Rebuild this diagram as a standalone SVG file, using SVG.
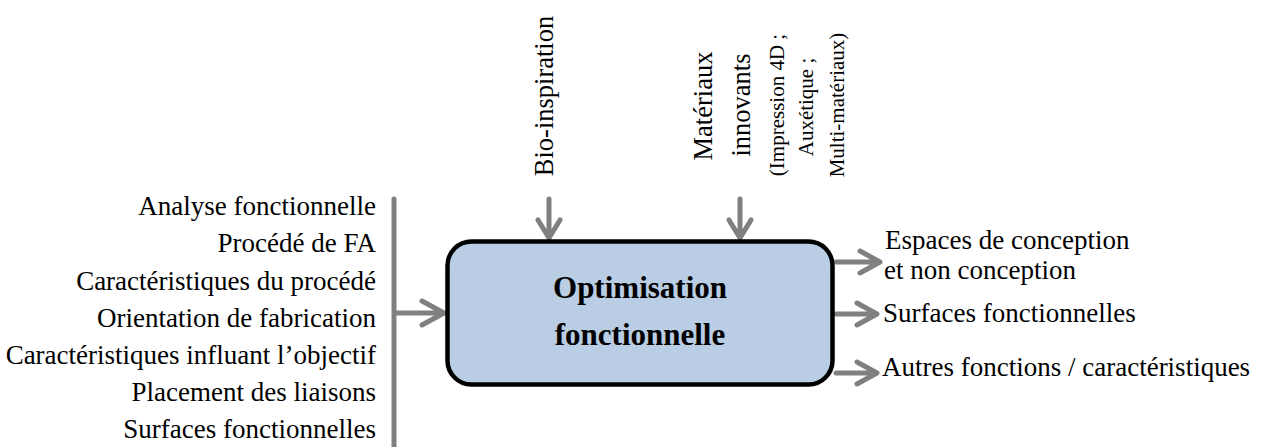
<svg xmlns="http://www.w3.org/2000/svg" width="1261" height="447" viewBox="0 0 1261 447" font-family="Liberation Serif, serif">
<style>
text{fill:#000}
.t{font-size:27px}
.v{font-size:26.5px}
.s{font-size:21px}
.b{font-size:31px;font-weight:bold}
.c{stroke:#808080;stroke-width:5;fill:none;stroke-linecap:round;stroke-linejoin:round}
</style>
<rect width="1261" height="447" fill="#fff"/>
<g id="inputs-left" font-family="Liberation Serif, serif">
<text class="t" text-anchor="end" x="376" y="215">Analyse fonctionnelle</text>
<text class="t" text-anchor="end" x="376" y="252">Procédé de FA</text>
<text class="t" text-anchor="end" x="376" y="289.5">Caractéristiques du procédé</text>
<text class="t" text-anchor="end" x="376" y="327">Orientation de fabrication</text>
<text class="t" text-anchor="end" x="376" y="364">Caractéristiques influant l’objectif</text>
<text class="t" text-anchor="end" x="376" y="401">Placement des liaisons</text>
<text class="t" text-anchor="end" x="376" y="438">Surfaces fonctionnelles</text>
</g>
<g id="bio" font-family="Liberation Serif, serif">
<text class="v" text-anchor="middle" transform="translate(553,96) rotate(-90)">Bio-inspiration</text>
</g>
<g id="materiaux" font-family="Liberation Serif, serif">
<text class="v" text-anchor="middle" transform="translate(712,106) rotate(-90)">Matériaux</text>
<text class="v" text-anchor="middle" transform="translate(750,105) rotate(-90)">innovants</text>
<text class="s" text-anchor="middle" transform="translate(784,105) rotate(-90)">(Impression 4D ;</text>
<text class="s" text-anchor="middle" transform="translate(813,107) rotate(-90)">Auxétique ;</text>
<text class="s" text-anchor="middle" transform="translate(844,105) rotate(-90)">Multi-matériaux)</text>
</g>
<g id="connectors">
<line class="c" x1="394" y1="199" x2="394" y2="447" stroke-linecap="butt"/>
<path class="c" d="M397 313 H443 M422 301 L444 313 L422 325"/>
<path class="c" d="M549 199 V237 M538 220 L549 238 L560 220"/>
<path class="c" d="M740 199 V237 M729 220 L740 238 L751 220"/>
<path class="c" d="M836 262 H879 M860 251 L880 262 L860 273"/>
<path class="c" d="M836 314 H875 M857 303 L877 314 L857 325"/>
<path class="c" d="M836 373 H875 M857 362 L877 373 L857 384"/>
</g>
<g id="optimisation" font-family="Liberation Serif, serif">
<rect x="447.5" y="241.5" width="385" height="143" rx="24" ry="24" fill="#B9CDE5" stroke="#000" stroke-width="4.5"/>
<text class="b" text-anchor="middle" x="640" y="298">Optimisation</text>
<text class="b" text-anchor="middle" x="640" y="345">fonctionnelle</text>
</g>
<g id="outputs" font-family="Liberation Serif, serif">
<text class="t" x="885" y="249">Espaces de conception</text>
<text class="t" x="884" y="279">et non conception</text>
<text class="t" x="883" y="322">Surfaces fonctionnelles</text>
<text class="t" x="882" y="376">Autres fonctions / caractéristiques</text>
</g>
</svg>
